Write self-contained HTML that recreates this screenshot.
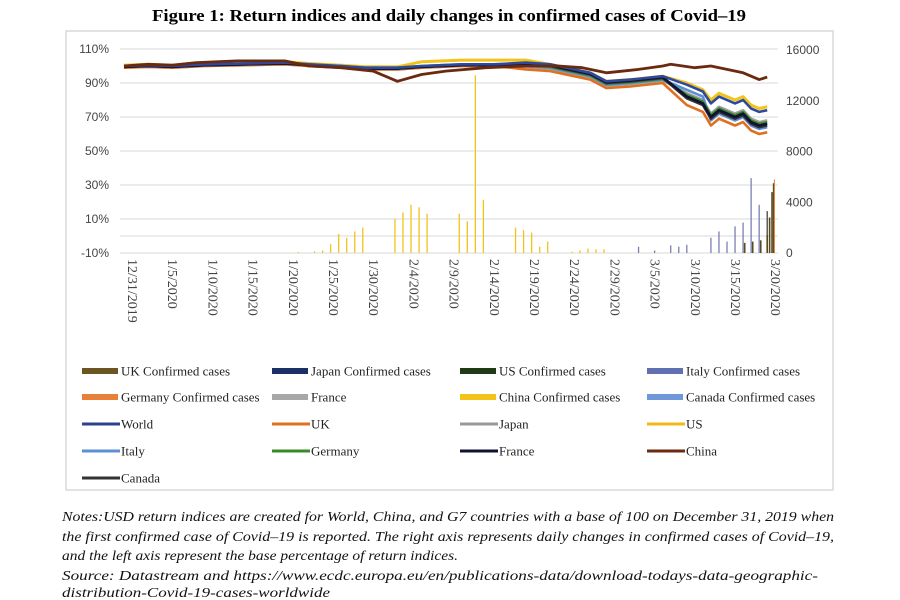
<!DOCTYPE html>
<html><head><meta charset="utf-8"><style>
body{margin:0;background:#fff;width:900px;height:600px;overflow:hidden}
svg{display:block}
</style></head><body>
<svg id="s" width="900" height="600" xmlns="http://www.w3.org/2000/svg">
<rect x="0" y="0" width="900" height="600" fill="#fff"/>
<text x="449" y="21" text-anchor="middle" font-family="Liberation Serif, serif" font-weight="bold" font-size="17" textLength="594" lengthAdjust="spacingAndGlyphs">Figure 1: Return indices and daily changes in confirmed cases of Covid–19</text>
<rect x="66" y="31" width="767" height="459" fill="#fff" stroke="#d9d9d9" stroke-width="1.5"/>
<g id="grid" stroke="#d9d9d9" stroke-width="1"></g>
<g id="bars"></g>
<g id="lines" fill="none" stroke-width="2.6" stroke-linejoin="round"></g>
<g id="ax" font-family="Liberation Sans, sans-serif" font-size="12" fill="#444"></g>
<g id="leg" font-family="Liberation Serif, serif" font-size="13" fill="#222"></g>
<g font-family="Liberation Serif, serif" font-style="italic" font-size="14" fill="#111">
<text x="62" y="521" textLength="772" lengthAdjust="spacingAndGlyphs">Notes:USD return indices are created for World, China, and G7 countries with a base of 100 on December 31, 2019 when</text>
<text x="62" y="541" textLength="772" lengthAdjust="spacingAndGlyphs">the first confirmed case of Covid–19 is reported. The right axis represents daily changes in confirmed cases of Covid–19,</text>
<text x="62" y="560" textLength="396" lengthAdjust="spacingAndGlyphs">and the left axis represent the base percentage of return indices.</text>
<text x="62" y="580" textLength="756" lengthAdjust="spacingAndGlyphs">Source: Datastream and https://www.ecdc.europa.eu/en/publications-data/download-todays-data-geographic-</text>
<text x="62" y="597" textLength="268" lengthAdjust="spacingAndGlyphs">distribution-Covid-19-cases-worldwide</text>
</g>
</svg>
<script>
var NS="http://www.w3.org/2000/svg";
function el(p,t,a,txt){var e=document.createElementNS(NS,t);for(var k in a)e.setAttribute(k,a[k]);if(txt!=null)e.textContent=txt;document.getElementById(p).appendChild(e);return e;}
function X(d){return 124+d*8.04;}
function Yp(p){return 253-(p+10)*1.7;}
function Yv(v){return 253-v*203/16000;}
var labs=["110%","90%","70%","50%","30%","10%","-10%"];
for(var i=0;i<7;i++){var p=110-20*i,y=Yp(p);el("grid","line",{x1:120,x2:778,y1:y,y2:y});
el("ax","text",{x:109,y:y+4,"text-anchor":"end"},labs[i]);}
el("grid","line",{x1:120,x2:778,y1:Yp(0),y2:Yp(0)});
var rl=["16000","12000","8000","4000","0"];
for(var i=0;i<5;i++){el("ax","text",{x:786,y:Yv(16000-4000*i)+4},rl[i]);}
var dl=["12/31/2019","1/5/2020","1/10/2020","1/15/2020","1/20/2020","1/25/2020","1/30/2020","2/4/2020","2/9/2020","2/14/2020","2/19/2020","2/24/2020","2/29/2020","3/5/2020","3/10/2020","3/15/2020","3/20/2020"];
for(var i=0;i<dl.length;i++){var x=X(i*5)+4;el("ax","text",{x:0,y:0,transform:"translate("+x+",259) rotate(90)","font-family":"Liberation Serif, serif","font-size":"14"},dl[i]);}
function bar(d,v,c,w){var x=X(d);el("bars","line",{x1:x,x2:x,y1:253,y2:Yv(v),stroke:c,"stroke-width":w||1.3});}
var ch={22:80,24:120,25:200,26:700,27:1500,28:1200,29:1700,30:2000,34:2700,35:3200,36:3800,37:3600,38:3100,42:3100,43:2500,44:14000,45:4200,49:2000,50:1800,51:1600,52:500,53:900,56:100,57:200,58:350,59:300,60:300};
for(var d in ch)bar(+d-0.3,ch[d],"#f2c418");
var it={64:500,66:200,68:600,69:500,70:650,73:1200,74:1700,75:900,76:2100,77:2400};
for(var d in it)bar(+d,it[d],"#7a7fb5");
bar(78,5900,"#7a7fb5");bar(79,3800,"#7a7fb5");bar(80,3300,"#444");
var dk=[[77.2,800],[78.2,900],[79.2,1000],[80.0,1400],[80.3,2800],[80.6,4800],[80.8,5500]];
dk.forEach(function(a){bar(a[0],a[1],"#5a4a20",1.6);});
bar(80.9,5800,"#e0803a",1);
function line(c,pts,w){var s="";pts.forEach(function(p,i){s+=(i?"L":"M")+X(p[0]).toFixed(1)+","+Yp(p[1]).toFixed(1);});el("lines","path",{d:s,stroke:c,"stroke-width":w||2.6});}
var base=[[0,100],[3,100.5],[6,100],[10,101],[15,101.5],[20,102],[23,101],[27,100],[30,99],[34,99],[37,100],[42,101],[46,101],[50,101],[53,100],[56,97],[58,95],[60,90],[63,91],[67,93],[70,88],[72,84],[73,76],[74,80],[76,76],[77,78],[78,73],[79,71],[80,72]];
function shift(a,fn){return a.map(function(p){return [p[0],p[1]+fn(p[0])];});}
line("#f2c418",shift(base,function(d){return d<36?0.5:d<52?2.5:d<70?1:d<73?2:4;}),3);
line("#a0a0a0",shift(base,function(d){return d<50?-1:d<70?-1.5:-4;}));
line("#e07020",shift(base,function(d){return d<50?-1:d<70?-3:-11;}));
line("#5b8fd6",shift(base,function(d){return d<50?0:d<70?-1:d<73?-2:-8;}));
line("#3a8a2a",shift(base,function(d){return d<50?-0.5:d<70?-0.5:-5;}));
line("#333",shift(base,function(d){return d<50?-0.5:d<70?0:-7;}));
line("#111133",shift(base,function(d){return d<50?-0.5:d<70?0.5:-6;}));
line("#2e4a9e",shift(base,function(d){return d<50?0:d<70?1:d<73?1:2;}));
line("#6b2a10",[[0,100],[3,101],[6,100.5],[9,102],[14,103],[20,103],[23,100],[27,99],[31,97],[34,91],[37,95],[40,97],[45,99],[50,100],[54,100],[57,99],[60,96],[64,98],[67,100],[68,101],[71,99],[73,100],[77,96],[79,92],[80,93.5]],2.8);
var L=[["UK Confirmed cases","#6b5520","b"],["Japan Confirmed cases","#1c2f66","b"],["US Confirmed cases","#1e3a16","b"],["Italy Confirmed cases","#6070b0","b"],
["Germany Confirmed cases","#e8803a","b"],["France","#a8a8a8","b"],["China Confirmed cases","#f2c418","b"],["Canada Confirmed cases","#6f98d8","b"],
["World","#2e3f8e","l"],["UK","#e07020","l"],["Japan","#999","l"],["US","#f2b818","l"],
["Italy","#5b8fd6","l"],["Germany","#3a8a2a","l"],["France","#111133","l"],["China","#6b2a10","l"],["Canada","#333","l"]];
var cx=[82,272,460,647],ry=[371,397,424,451,478];
L.forEach(function(it,i){var c=i%4,r=Math.floor(i/4),x=cx[c],y=ry[r];
if(it[2]=="b")el("leg","rect",{x:x,y:y-3,width:36,height:6,fill:it[1]});else el("leg","rect",{x:x,y:y-1.5,width:38,height:3,fill:it[1]});
el("leg","text",{x:x+39,y:y+4.5},it[0]);});
</script>
</body></html>
